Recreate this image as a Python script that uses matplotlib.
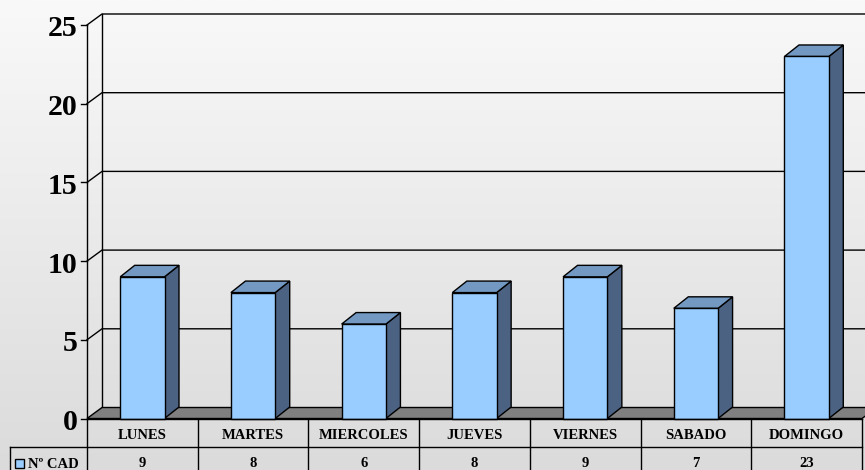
import numpy as np
import matplotlib.pyplot as plt
from matplotlib.patches import Polygon, Rectangle

categories = ["LUNES", "MARTES", "MIERCOLES", "JUEVES", "VIERNES", "SABADO", "DOMINGO"]
values = [9, 8, 6, 8, 9, 7, 23]
series_name = "Nº CAD"
yticks = [0, 5, 10, 15, 20, 25]

W, H = 865, 470
FRONT = "#99CCFF"
TOP = "#7399C2"
SIDE = "#4B6282"
FLOOR = "#808080"
FONT = "Liberation Serif"

fig = plt.figure(figsize=(W / 100, H / 100), dpi=100)

# background gradient
bg = fig.add_axes([0, 0, 1, 1])
grad = np.linspace(0, 1, 256).reshape(-1, 1)
c_top = np.array([0xf9, 0xf9, 0xf9]) / 255
c_bot = np.array([0xdb, 0xdb, 0xdb]) / 255
img = c_top[None, None, :] * (1 - grad[:, :, None]) + c_bot[None, None, :] * grad[:, :, None]
bg.imshow(img, aspect="auto", extent=[0, 1, 0, 1])
bg.axis("off")

# main axes: front plane, x in categories, y in values
x_left, x_right, y_top, y_bot = 87, 862, 25, 418.5
ax = fig.add_axes([x_left / W, (H - y_bot) / H, (x_right - x_left) / W, (y_bot - y_top) / H])
n = len(categories)
ymax = yticks[-1]
ax.set_xlim(0, n)
ax.set_ylim(0, ymax)
ax.axis("off")
ax.patch.set_alpha(0)

ux = (x_right - x_left) / n
uy = (y_bot - y_top) / ymax


def px(dxp):
    return dxp / ux


def py(dyp):
    return dyp / uy


wdx, wdy = px(15), py(11)
bdx, bdy = px(14.5), py(11.5)
lw = 1.0
kw = dict(clip_on=False)

# floor
ax.add_patch(Polygon([(0, 0), (n, 0), (n + wdx, wdy), (wdx, wdy)], closed=True,
                     facecolor=FLOOR, edgecolor="black", lw=lw, zorder=2, **kw))
# back wall left edge and front left line
ax.plot([wdx, wdx], [wdy, ymax + wdy], color="black", lw=lw, zorder=1, **kw)
ax.plot([0, 0], [0, ymax], color="black", lw=lw, zorder=3, **kw)
# gridlines
for t in yticks[1:]:
    ax.plot([0, wdx, n + wdx + 1], [t, t + wdy, t + wdy], color="black", lw=lw, zorder=1, **kw)
    
# ticks and tick labels
for t in yticks:
    ax.plot([-px(6), 0], [t, t], color="black", lw=lw, zorder=3, **kw)
    ax.text(-px(9.5), t - py(11.5), str(t), ha="right", va="baseline",
            fontsize=21.5, fontweight="bold", family=FONT, **kw)

# bars
bw = 0.4
for i, v in enumerate(values):
    x0, x1 = i + 0.5 - bw / 2, i + 0.5 + bw / 2
    ax.add_patch(Polygon([(x1, 0), (x1 + bdx, bdy), (x1 + bdx, v + bdy), (x1, v)], closed=True,
                         facecolor=SIDE, edgecolor="black", lw=lw, zorder=4, **kw))
    ax.add_patch(Polygon([(x0, v), (x1, v), (x1 + bdx, v + bdy), (x0 + bdx, v + bdy)], closed=True,
                         facecolor=TOP, edgecolor="black", lw=lw, zorder=4, **kw))
    ax.add_patch(Rectangle((x0, 0), bw, v, facecolor=FRONT, edgecolor="black", lw=lw, zorder=5, **kw))

# data table
r1 = -py(446.5 - y_bot)
bottom = -py(H - y_bot + 5)
lab_x = -px(x_left - 10)
ax.plot([0, n], [0, 0], color="black", lw=lw, zorder=6, **kw)
ax.plot([lab_x, n], [r1, r1], color="black", lw=lw, zorder=6, **kw)
ax.plot([lab_x, lab_x], [r1, bottom], color="black", lw=lw, zorder=6, **kw)
for i in range(n + 1):
    ax.plot([i, i], [0, bottom], color="black", lw=lw, zorder=6, **kw)
for i, (c, v) in enumerate(zip(categories, values)):
    ax.text(i + 0.5, -py(439 - y_bot), c, ha="center", va="baseline",
            fontsize=10.5, fontweight="bold", family=FONT, **kw)
    ax.text(i + 0.5, -py(467 - y_bot), str(v), ha="center", va="baseline",
            fontsize=10.5, fontweight="bold", family=FONT, **kw)
# legend key + series name
ax.add_patch(Rectangle((-px(x_left - 15), -py(468 - y_bot)), px(9), py(9),
                       facecolor=FRONT, edgecolor="black", lw=lw, zorder=6, **kw))
ax.text(-px(x_left - 28), -py(468 - y_bot), series_name, ha="left", va="baseline",
        fontsize=10.5, fontweight="bold", family=FONT, **kw)

fig.savefig("out.png", dpi=100)
